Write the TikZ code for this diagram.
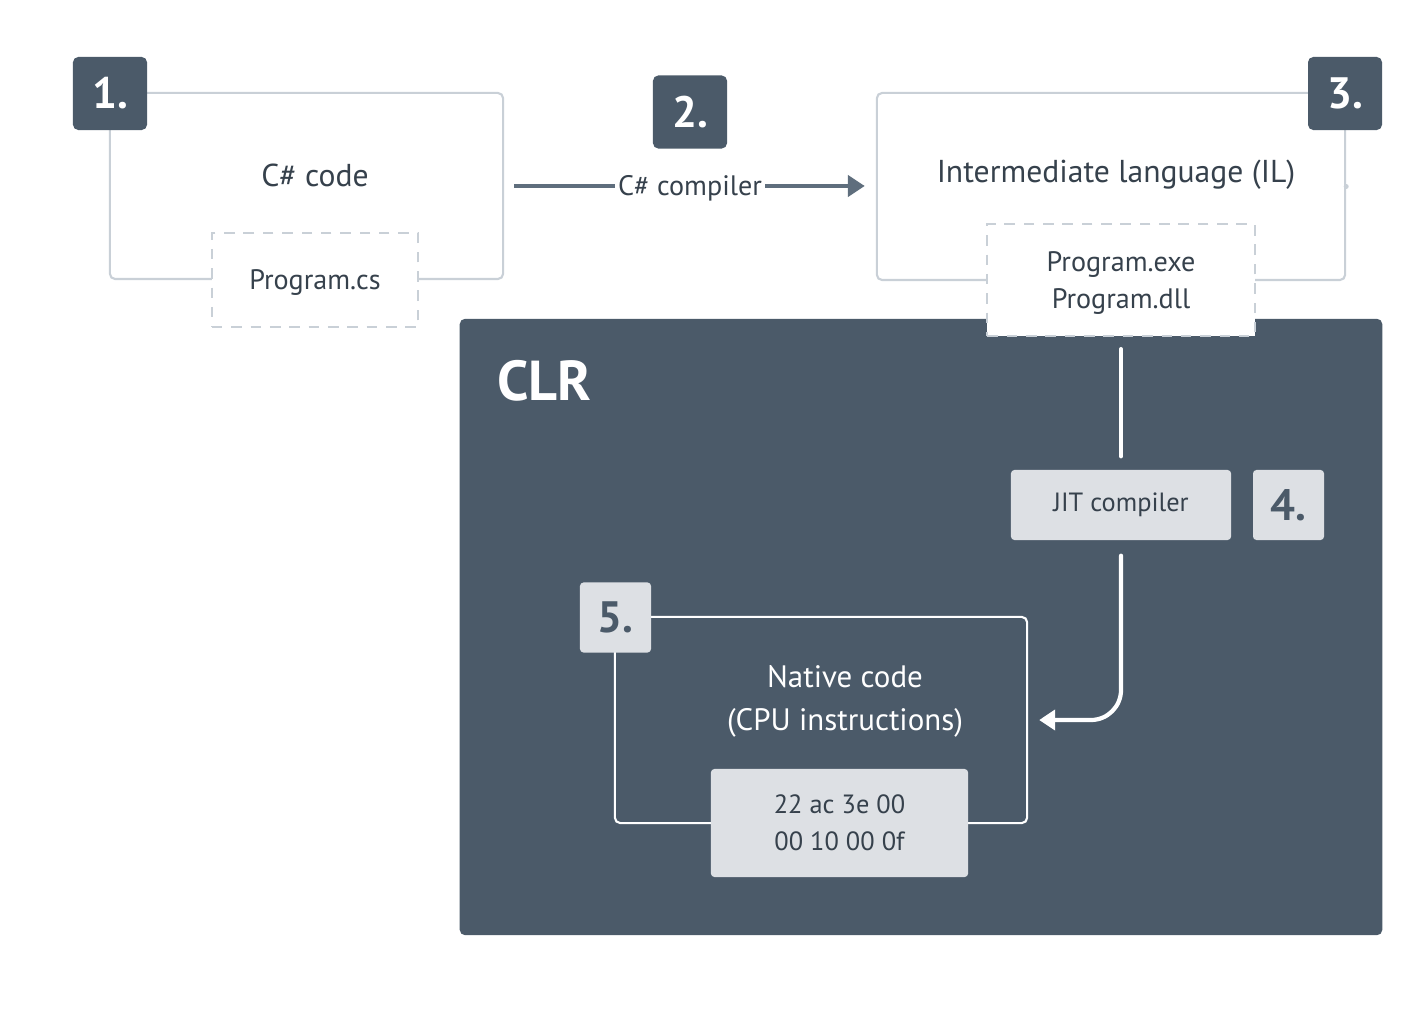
\documentclass[tikz,border=0pt]{standalone}
\usepackage{fontspec}
\setmainfont{PT Sans}
\usetikzlibrary{arrows.meta, positioning}
\definecolor{slate}{HTML}{4B5A69}
\definecolor{framec}{HTML}{C9D0D7}
\definecolor{boxc}{HTML}{DDE0E4}
\definecolor{inkc}{HTML}{36414C}
\definecolor{arrc}{HTML}{5F6E7D}
\begin{document}
\begin{tikzpicture}[
  x=0.01cm, y=-0.01cm,
  frame/.style={rectangle, draw=framec, line width=0.6pt, rounded corners=1.5pt},
  dbox/.style={rectangle, draw=framec, fill=white, dashed, dash pattern=on 3pt off 2.5pt, line width=0.6pt, align=center, text=inkc, font=\fontsize{8}{10.5}\selectfont, text depth=0pt},
  badge/.style={rectangle, fill=slate, rounded corners=1.5pt, text=white, font=\bfseries\fontsize{12.5}{14}\selectfont, minimum width=0.74cm, minimum height=0.73cm},
  lbadge/.style={rectangle, fill=boxc, rounded corners=1pt, text=slate, font=\bfseries\fontsize{12.5}{14}\selectfont, minimum width=0.71cm, minimum height=0.7cm},
  lbox/.style={rectangle, fill=boxc, rounded corners=1pt, align=center, text=inkc, font=\fontsize{7.5}{10.5}\selectfont},
  title/.style={text=inkc, font=\fontsize{9}{11}\selectfont},
  arr/.style={-{Triangle[length=0.17cm, width=0.21cm]}, draw=arrc, line width=1.4pt},
  wline/.style={draw=white, line width=1.2pt, line cap=round}
]
\useasboundingbox (0,0) rectangle (1419,1028);
\node[frame, minimum width=3.93cm, minimum height=1.86cm] (f1) at (306.5,186) {};
\node[badge] (b1) at (110,93.5) {1.};
\node[title] (cst) at (315,175) {C\# code};
\node[dbox, minimum width=2.06cm, minimum height=0.94cm] (cs) at (315,280) {Program.cs};
\node[frame, minimum width=4.68cm, minimum height=1.87cm] (f3) at (1111,186.5) {};
\fill[framec] (f3.east) circle (0.025cm);
\node[badge] (b3) at (1345,93.5) {3.};
\node[title] (ilt) at (1116,175) {Intermediate language (IL)};
\node[badge] (b2) at (690,112) {2.};
\draw[arr, shorten <=0.1cm, shorten >=0.11cm] (f1.east) -- node[fill=white, inner sep=1pt, yshift=-0.02cm, text=inkc, font=\fontsize{8}{10}\selectfont]{C\# compiler} (f1.east -| f3.west);
\node[rectangle, fill=slate, rounded corners=1.5pt, minimum width=9.22cm, minimum height=6.16cm] (clr) at (921,627) {};
\node[anchor=west, text=white, font=\bfseries\fontsize{16}{18}\selectfont] (clrt) at (485,381) {CLR};
\node[dbox, minimum width=2.67cm, minimum height=1.12cm] (il) at (1121,280) {Program.exe\\Program.dll};
\node[lbox, minimum width=2.2cm, minimum height=0.7cm] (jit) at (1121,505) {JIT compiler};
\node[lbadge] (b4) at (1288.5,505) {4.};
\node[rectangle, draw=white, line width=0.6pt, rounded corners=1.5pt, minimum width=4.12cm, minimum height=2.06cm] (nat) at (821,720) {};
\node[lbadge] (b5) at (615.5,617.5) {5.};
\node[align=center, text=white, font=\fontsize{8.8}{12.2}\selectfont] (natt) at (845,701) {Native code\\(CPU instructions)};
\node[lbox, minimum width=2.57cm, minimum height=1.08cm] (hex) at (839.5,823) {22 ac 3e 00\\00 10 00 0f};
\draw[wline, shorten <=0.12cm, shorten >=0.13cm] (il) -- (jit);
\draw[wline, -{Triangle[length=0.16cm, width=0.2cm]}, rounded corners=0.3cm, shorten <=0.15cm, shorten >=0.11cm] (jit.south) |- (nat.east);
\end{tikzpicture}
\end{document}
